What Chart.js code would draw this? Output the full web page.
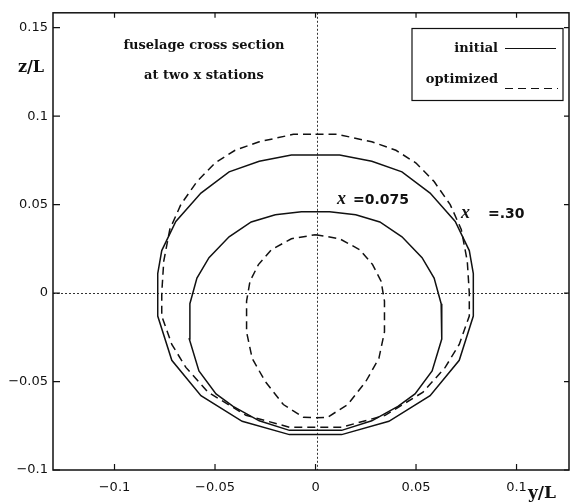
<!DOCTYPE html>
<html>
<head>
<meta charset="utf-8">
<script src="https://cdn.jsdelivr.net/npm/chart.js@4"></script>
<style>
  html, body { margin: 0; padding: 0; background: #fff; }
  canvas { display: block; }
</style>
</head>
<body>
<canvas id="section" width="572" height="504"></canvas>
<script>
// section outlines, y/L and z/L, traced round from the top centre
const initialOuterY = [0, 0.012, 0.028, 0.043, 0.057, 0.0695, 0.0765, 0.0785, 0.0785, 0.0715, 0.057, 0.0365, 0.013, 0,
  -0.013, -0.0365, -0.057, -0.0715, -0.0785, -0.0785, -0.0765, -0.0695, -0.057, -0.043, -0.028, -0.012, 0];
const initialOuterZ = [0.078, 0.078, 0.0745, 0.0685, 0.0565, 0.0405, 0.024, 0.011, -0.013, -0.038, -0.058, -0.0725, -0.080, -0.080,
  -0.080, -0.0725, -0.058, -0.038, -0.013, 0.011, 0.024, 0.0405, 0.0565, 0.0685, 0.0745, 0.078, 0.078];

const optimizedOuterY = [0, 0.011, 0.028, 0.040, 0.050, 0.059, 0.067, 0.0725, 0.0755, 0.0765, 0.0765, 0.0715, 0.0645, 0.0535, 0.0346, 0.013, 0,
  -0.013, -0.0346, -0.0535, -0.0645, -0.0715, -0.0765, -0.0765, -0.0755, -0.0725, -0.067, -0.059, -0.050, -0.040, -0.028, -0.011, 0];
const optimizedOuterZ = [0.0897, 0.0897, 0.0855, 0.0807, 0.0735, 0.063, 0.050, 0.036, 0.018, 0, -0.013, -0.029, -0.042, -0.056, -0.0691, -0.0758, -0.0758,
  -0.0758, -0.0691, -0.056, -0.042, -0.029, -0.013, 0, 0.018, 0.036, 0.050, 0.063, 0.0735, 0.0807, 0.0855, 0.0897, 0.0897];

const initialInnerY = [0, 0.007, 0.020, 0.032, 0.043, 0.053, 0.059, 0.0625, 0.0628, 0.058, 0.0495, 0.041, 0.028, 0.013, 0,
  -0.013, -0.028, -0.041, -0.0495, -0.058, -0.0628, -0.0625, -0.059, -0.053, -0.043, -0.032, -0.020, -0.007, 0];
const initialInnerZ = [0.046, 0.046, 0.0442, 0.0402, 0.0318, 0.020, 0.0085, -0.006, -0.026, -0.044, -0.057, -0.064, -0.0722, -0.0776, -0.0776,
  -0.0776, -0.0722, -0.064, -0.057, -0.044, -0.026, -0.006, 0.0085, 0.020, 0.0318, 0.0402, 0.0442, 0.046, 0.046];

const optimizedInnerY = [0, 0.012, 0.022, 0.0284, 0.0326, 0.0343, 0.0343, 0.0315, 0.025, 0.016, 0.006, 0,
  -0.006, -0.016, -0.025, -0.0315, -0.0343, -0.0343, -0.0326, -0.0284, -0.022, -0.012, 0];
const optimizedInnerZ = [0.033, 0.0307, 0.0245, 0.0161, 0.0067, -0.0045, -0.022, -0.037, -0.050, -0.063, -0.0702, -0.0705,
  -0.0702, -0.063, -0.050, -0.037, -0.022, -0.0045, 0.0067, 0.0161, 0.0245, 0.0307, 0.033];

const xTicks = [-0.1, -0.05, 0, 0.05, 0.1];
const xTickLabels = ['\u22120.1', '\u22120.05', '0', '0.05', '0.1'];
const yTicks = [0.15, 0.1, 0.05, 0, -0.05, -0.1];
const yTickLabels = ['0.15', '0.1', '0.05', '0', '\u22120.05', '\u22120.1'];

const INK = '#111';
const SOLID = [];
const DASHED = [8, 5];

function pts(ys, zs) {
  return ys.map((y, i) => ({ x: y, y: zs[i] }));
}

function outline(ys, zs, dash) {
  return {
    data: pts(ys, zs),
    showLine: true,
    borderColor: INK,
    borderWidth: 1.5,
    borderDash: dash,
    pointRadius: 0,
    tension: 0,
    fill: false
  };
}

const serif = 'bold 13px "DejaVu Serif", serif';

// frame, inward ticks, zero lines, notes and the legend box
const decorations = {
  id: 'decorations',
  beforeDatasetsDraw(chart) {
    const { ctx, chartArea: a, scales: { x, y } } = chart;
    ctx.save();
    ctx.strokeStyle = '#333';
    ctx.lineWidth = 1;
    ctx.setLineDash([2, 2]);
    const x0 = Math.round(x.getPixelForValue(0)) + 1.5;
    const y0 = Math.round(y.getPixelForValue(0)) + 0.5;
    ctx.beginPath();
    ctx.moveTo(a.left, y0); ctx.lineTo(a.right, y0);
    ctx.moveTo(x0, a.top); ctx.lineTo(x0, a.bottom);
    ctx.stroke();
    ctx.restore();
  },
  afterDraw(chart) {
    const { ctx, chartArea: a, scales: { x, y } } = chart;
    ctx.save();
    ctx.strokeStyle = INK;
    ctx.lineWidth = 1.5;
    ctx.strokeRect(a.left, a.top, a.right - a.left, a.bottom - a.top);

    ctx.lineWidth = 1.2;
    ctx.beginPath();
    xTicks.forEach(v => {
      const px = x.getPixelForValue(v);
      ctx.moveTo(px, a.bottom); ctx.lineTo(px, a.bottom - 6);
      ctx.moveTo(px, a.top); ctx.lineTo(px, a.top + 5);
    });
    yTicks.forEach(v => {
      const py = y.getPixelForValue(v);
      ctx.moveTo(a.left, py); ctx.lineTo(a.left + 7, py);
      ctx.moveTo(a.right, py); ctx.lineTo(a.right - 5, py);
    });
    ctx.stroke();

    ctx.fillStyle = INK;
    ctx.textBaseline = 'middle';
    ctx.textAlign = 'center';
    ctx.font = serif;
    ctx.fillText('fuselage cross section', 204, 46);
    ctx.fillText('at two x stations', 204, 76);

    ctx.font = 'bold 16px "DejaVu Serif", serif';
    ctx.fillText('z/L', 31, 68);
    ctx.font = 'bold 17px "DejaVu Serif", serif';
    ctx.fillText('y/L', 542, 494);

    // station labels
    ctx.textAlign = 'left';
    ctx.font = 'bold italic 18px "Liberation Serif", serif';
    ctx.fillText('x', 337, 199);
    ctx.fillText('x', 461, 213);
    ctx.font = 'bold 14px "DejaVu Sans", sans-serif';
    ctx.fillText('=0.075', 353, 200);
    ctx.fillText('=.30', 488, 214);

    // legend
    ctx.lineWidth = 1.2;
    ctx.strokeRect(412, 28.5, 151, 72);
    ctx.font = serif;
    ctx.textAlign = 'right';
    ctx.fillText('initial', 498, 49);
    ctx.fillText('optimized', 498, 80);
    ctx.beginPath();
    ctx.moveTo(505, 48.5); ctx.lineTo(556, 48.5);
    ctx.stroke();
    ctx.setLineDash([8, 5]);
    ctx.beginPath();
    ctx.moveTo(505, 88.5); ctx.lineTo(558, 88.5);
    ctx.stroke();
    ctx.restore();
  }
};

const tickFont = { family: '"DejaVu Sans", sans-serif', size: 13 };

new Chart(document.getElementById('section'), {
  type: 'scatter',
  data: {
    datasets: [
      outline(initialOuterY, initialOuterZ, SOLID),
      outline(optimizedOuterY, optimizedOuterZ, DASHED),
      outline(initialInnerY, initialInnerZ, SOLID),
      outline(optimizedInnerY, optimizedInnerZ, DASHED)
    ]
  },
  options: {
    responsive: false,
    animation: false,
    layout: { padding: { top: 10, right: 3, left: 0, bottom: 0 } },
    plugins: { legend: { display: false }, tooltip: { enabled: false } },
    scales: {
      x: {
        type: 'linear',
        min: -0.1306,
        max: 0.1261,
        grid: { display: false, drawTicks: false, tickLength: 0 },
        border: { display: false },
        afterBuildTicks: s => { s.ticks = xTicks.map(v => ({ value: v })); },
        afterFit: s => { s.height = 34; },
        ticks: {
          color: INK, font: tickFont, padding: 10, maxRotation: 0, autoSkip: false,
          callback: (v, i) => xTickLabels[i]
        }
      },
      y: {
        type: 'linear',
        min: -0.1,
        max: 0.1584,
        grid: { display: false, drawTicks: false, tickLength: 0 },
        border: { display: false },
        afterBuildTicks: s => { s.ticks = yTicks.map(v => ({ value: v })); },
        afterFit: s => { s.width = 53; },
        ticks: {
          color: INK, font: tickFont, padding: 5, autoSkip: false,
          callback: (v, i) => yTickLabels[i]
        }
      }
    }
  },
  plugins: [decorations]
});
</script>
</body>
</html>
